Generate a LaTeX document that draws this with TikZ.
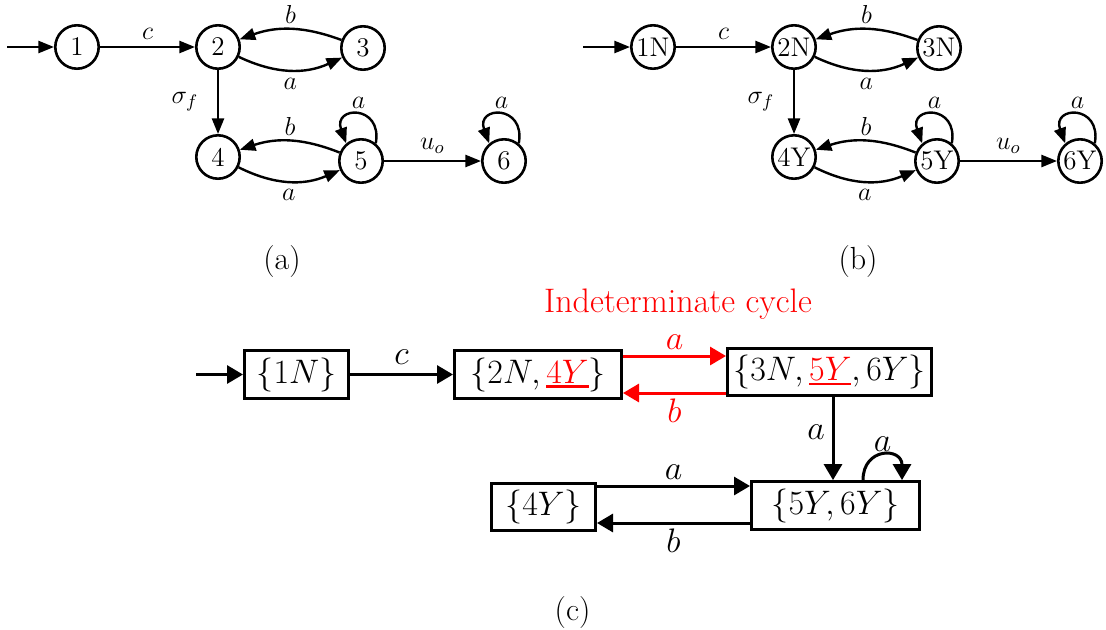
\RequirePackage{fix-cm}
\documentclass[tikz,border=0pt]{standalone}
\usetikzlibrary{arrows.meta}
\newcommand{\redul}[1]{\mbox{\color{red}\setbox0=\hbox{$#1$}\rlap{\raisebox{-2.3pt}{\rule{\wd0}{1.1pt}}}\box0}}
\begin{document}
\begin{tikzpicture}[x=0.5pt,y=0.5pt,
  st/.style={circle,draw,line width=1.3pt,minimum size=21.7pt,inner sep=0.3pt,font=\fontsize{13.5}{16}\selectfont},
  ea/.style={-{Triangle[length=7.8pt,width=6pt]},line width=1.2pt},
  lab/.style={font=\fontsize{13}{15}\selectfont},
  captxt/.style={font=\fontsize{16}{19}\selectfont},
  bx/.style={draw,line width=1.6pt,inner sep=0pt,minimum height=23.8pt,font=\fontsize{17}{20}\selectfont},
  eb/.style={-{Triangle[length=8pt,width=9pt]},line width=1.5pt},
  lc/.style={font=\fontsize{17}{20}\selectfont}]
\useasboundingbox (0,0) rectangle (1106,629);
% ---------- (a)
\coordinate (a0) at (7,582);
\node[st] (A1) at (77,582) {1};
\node[st] (A2) at (218,582) {2};
\node[st] (A3) at (363,581) {3};
\node[st] (A4) at (218,472) {4};
\node[st] (A5) at (361,468) {5};
\node[st] (A6) at (504,468) {6};
\draw[ea] (a0) -- (A1);
\draw[ea] (A1) -- node[lab,above]{$c$} (A2);
\draw[ea] (A2) to[bend right=25] node[lab,below]{$a$} (A3);
\draw[ea] (A3) to[bend right=20] node[lab,above=-1pt]{$b$} (A2);
\draw[ea] (A2) -- node[lab,left=6pt]{$\sigma_f$} (A4);
\draw[ea] (A4) to[bend right=25] node[lab,below]{$a$} (A5);
\draw[ea] (A5) to[bend right=20] node[lab,above=-1pt]{$b$} (A4);
\draw[ea] (A5.50) .. controls +(80:40) and +(110:40) .. node[lab,above=-1pt]{$a$} (A5.130);
\draw[ea] (A5) -- node[lab,above]{$u_o$} (A6);
\draw[ea] (A6.50) .. controls +(80:40) and +(110:40) .. node[lab,above=-1pt]{$a$} (A6.130);
\node[captxt] (capa) at (282,367) {(a)};
% ---------- (b)
\coordinate (b0) at (583,582);
\node[st] (B1) at (653,582) {1N};
\node[st] (B2) at (794,582) {2N};
\node[st] (B3) at (939,581) {3N};
\node[st] (B4) at (794,472) {4Y};
\node[st] (B5) at (937,468) {5Y};
\node[st] (B6) at (1080,468) {6Y};
\draw[ea] (b0) -- (B1);
\draw[ea] (B1) -- node[lab,above]{$c$} (B2);
\draw[ea] (B2) to[bend right=25] node[lab,below]{$a$} (B3);
\draw[ea] (B3) to[bend right=20] node[lab,above=-1pt]{$b$} (B2);
\draw[ea] (B2) -- node[lab,left=6pt]{$\sigma_f$} (B4);
\draw[ea] (B4) to[bend right=25] node[lab,below]{$a$} (B5);
\draw[ea] (B5) to[bend right=20] node[lab,above=-1pt]{$b$} (B4);
\draw[ea] (B5.50) .. controls +(80:40) and +(110:40) .. node[lab,above=-1pt]{$a$} (B5.130);
\draw[ea] (B5) -- node[lab,above]{$u_o$} (B6);
\draw[ea] (B6.50) .. controls +(80:40) and +(110:40) .. node[lab,above=-1pt]{$a$} (B6.130);
\node[captxt] (capb) at (858,367) {(b)};
% ---------- (c)
\node[bx,minimum width=51.9pt] (C1) at (296.5,254.5) {$\{1N\}$};
\node[bx,minimum width=83.4pt] (C2) at (538,254.5) {$\{2N,\redul{4Y}\}$};
\node[bx,minimum width=101.9pt] (C3) at (829.5,257) {$\{3N,\redul{5Y},6Y\}$};
\node[bx,minimum width=51.9pt] (C4) at (543.5,122) {$\{4Y\}$};
\node[bx,minimum width=83.9pt] (C5) at (835.5,123.5) {$\{5Y,6Y\}$};
\node[lc,red,anchor=base] (ic) at (678,317) {Indeterminate cycle};
\coordinate (c0) at (196,254.5);
\draw[eb] (c0) -- (C1);
\draw[eb] (C1) -- node[lc,above=1pt]{$c$} (C2);
\coordinate (ra) at (0,273);
\coordinate (rb) at (0,236);
\draw[eb,red] (C2.east |- ra) -- node[lc,above=-1pt]{$a$} (C3.west |- ra);
\draw[eb,red] (C3.west |- rb) -- node[lc,below=-1pt]{$b$} (C2.east |- rb);
\coordinate (xd) at (833,0);
\draw[eb] (C3.south -| xd) -- node[lc,left,pos=0.42]{$a$} (C5.north -| xd);
\coordinate (l1) at (863,0);
\coordinate (l2) at (902,0);
\draw[eb] (C5.north -| l1) .. controls +(0,33) and +(0,33) .. node[lc,above=-2pt]{$a$} (C5.north -| l2);
\coordinate (ya) at (0,143);
\coordinate (yb) at (0,106);
\draw[eb] (C4.east |- ya) -- node[lc,above=-1pt]{$a$} (C5.west |- ya);
\draw[eb] (C5.west |- yb) -- node[lc,below=-1pt]{$b$} (C4.east |- yb);
\node[captxt] (capc) at (572.5,16) {(c)};
\end{tikzpicture}
\end{document}
